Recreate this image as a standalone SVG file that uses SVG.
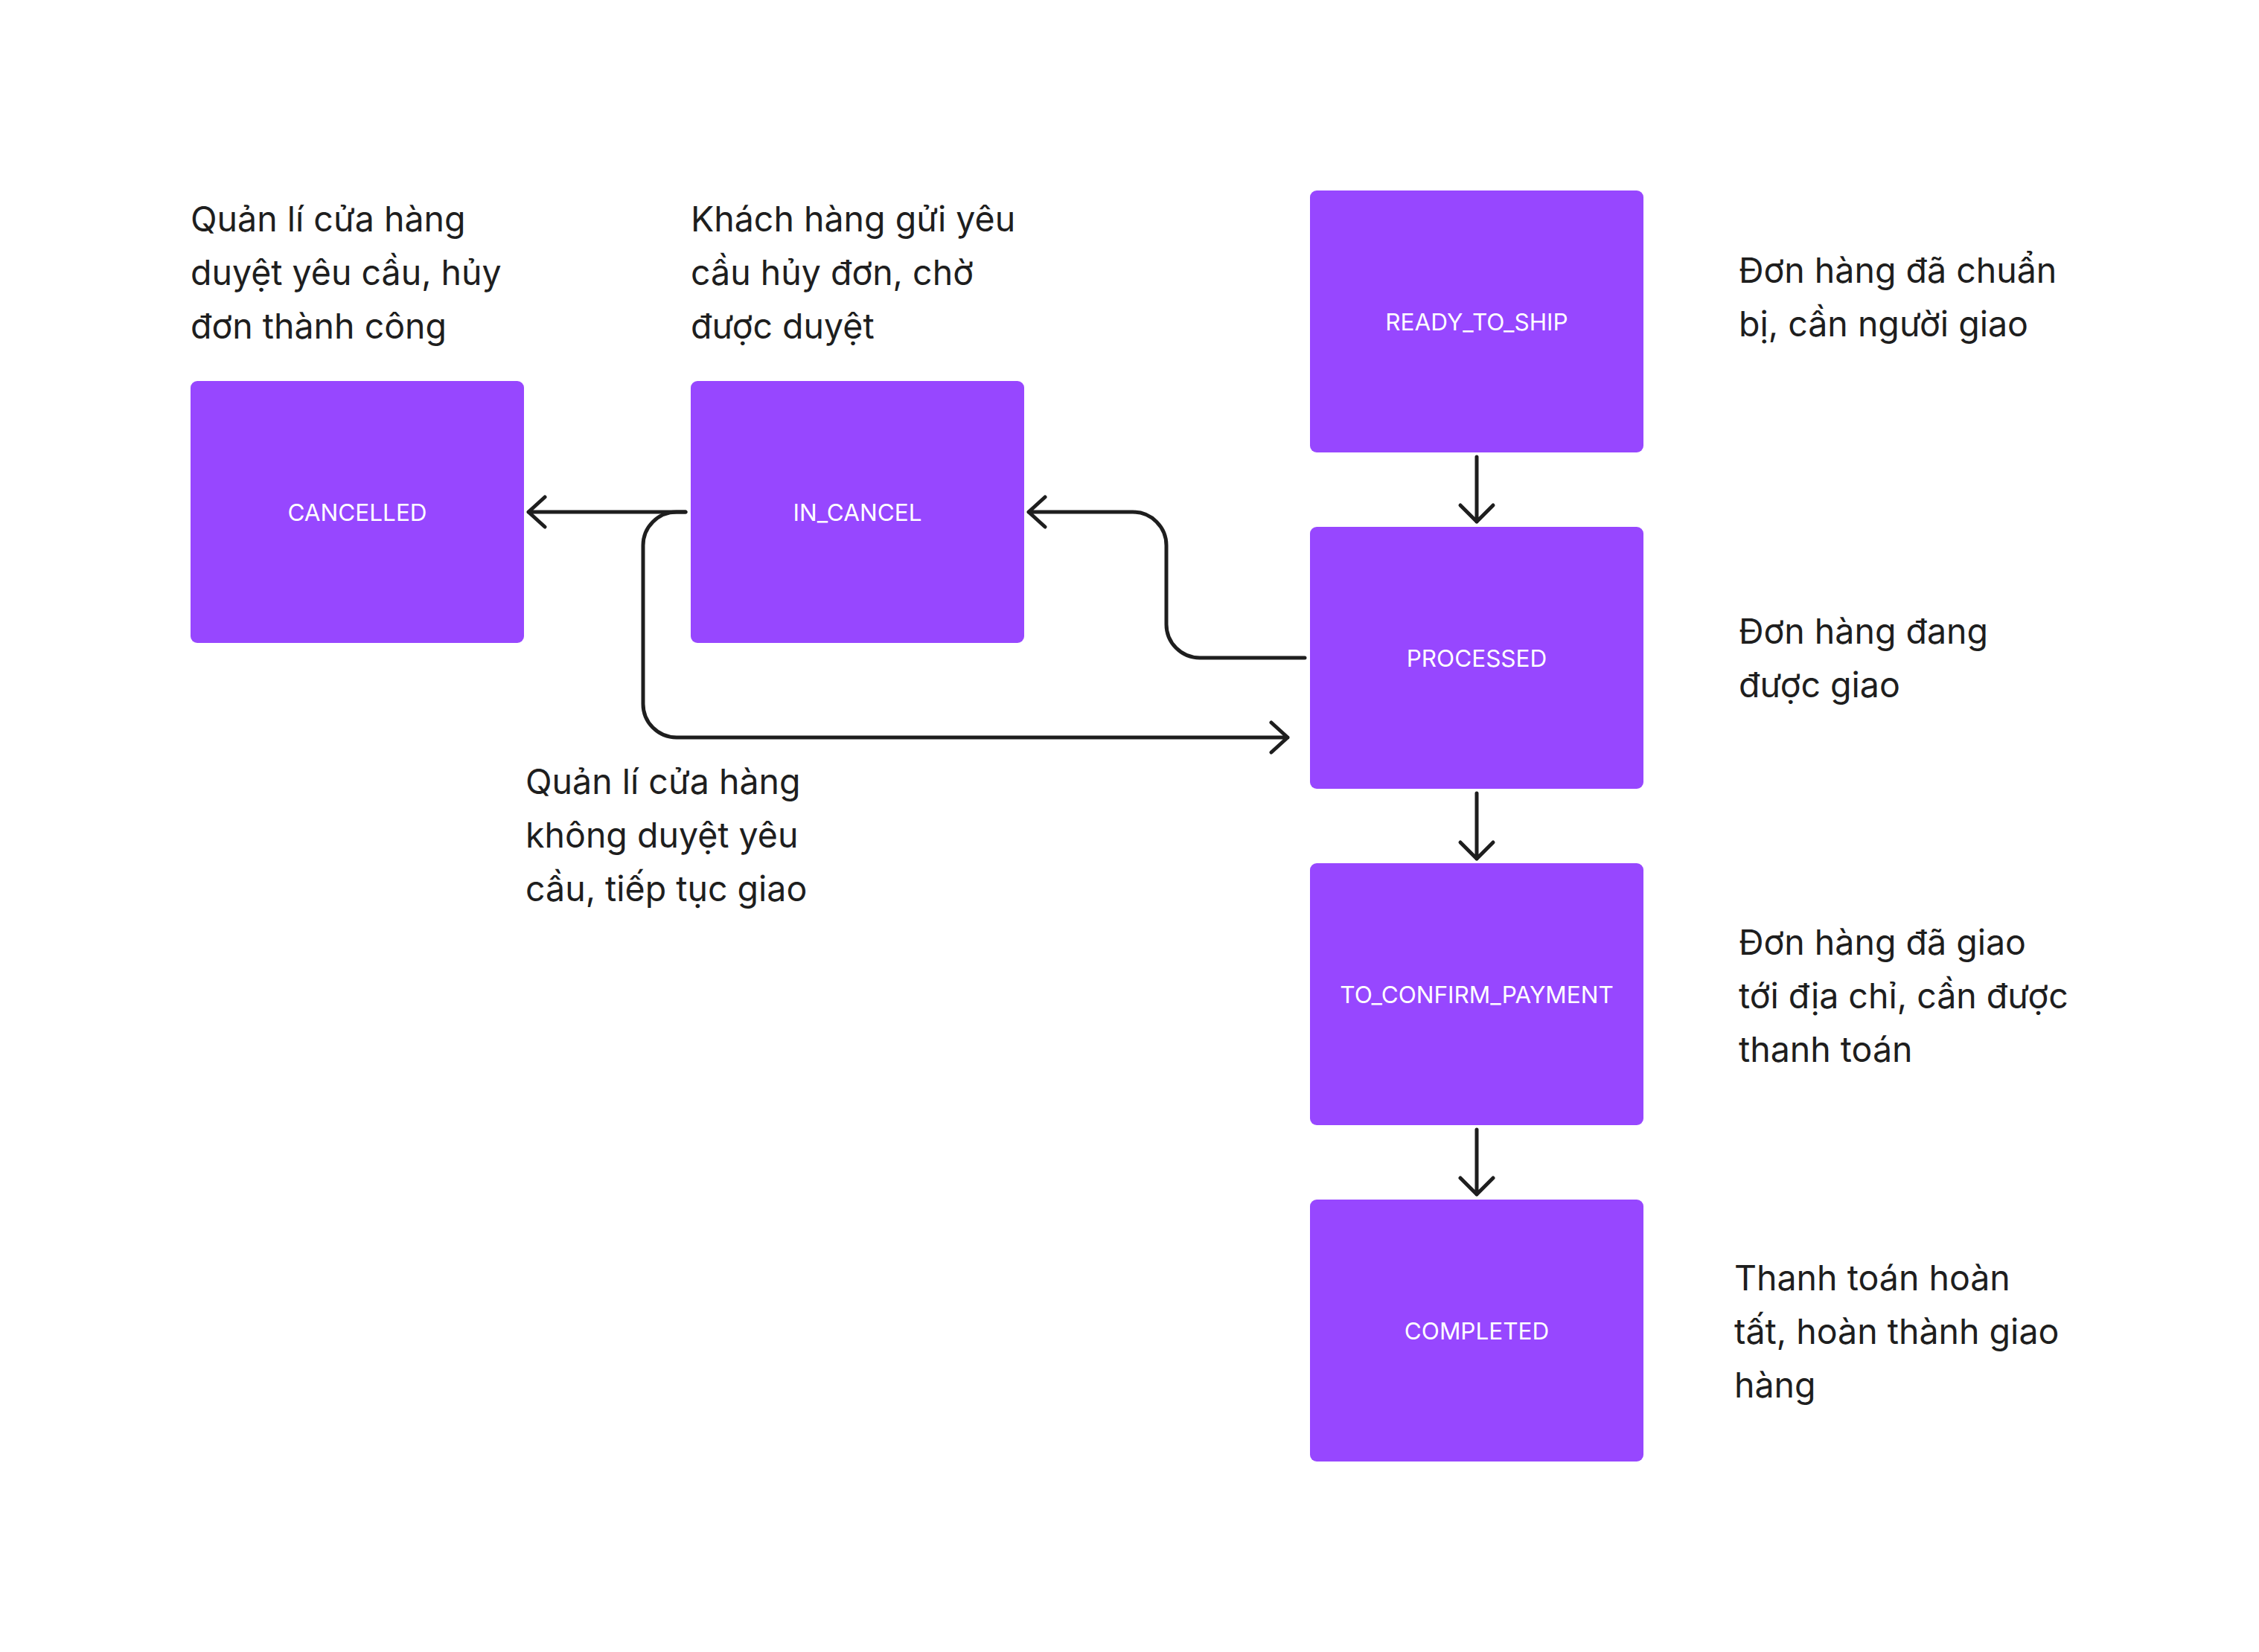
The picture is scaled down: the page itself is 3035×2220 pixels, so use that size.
<svg xmlns="http://www.w3.org/2000/svg" width="3035" height="2220" viewBox="0 0 3035 2220">
<style>
.box{fill:#9747FF}
.lbl{font-family:Inter,"Noto Sans",sans-serif;font-size:31.5px;fill:#FFFFFF;text-anchor:middle}
.desc{font-family:Inter,"Noto Sans",sans-serif;font-size:46.5px;fill:#1E1E1E}
.ln{fill:none;stroke:#1E1E1E;stroke-width:5;stroke-linecap:round;stroke-linejoin:round}
</style>
<rect width="3035" height="2220" fill="#FFFFFF"/>
<g id="connectors">
<path class="ln" d="M921 688 H710 M732 668 L710 688 L732 708"/>
<path class="ln" d="M921 688 H909 A45 45 0 0 0 864 733 V946 A45 45 0 0 0 909 991 H1730 M1708 971 L1730 991 L1708 1011"/>
<path class="ln" d="M1753 884 H1612 A45 45 0 0 1 1567 839 V733 A45 45 0 0 0 1522 688 H1382 M1404 668 L1382 688 L1404 708"/>
<path class="ln" d="M1984 614 V701 M1962 679 L1984 701 L2006 679"/>
<path class="ln" d="M1984 1066 V1154 M1962 1132 L1984 1154 L2006 1132"/>
<path class="ln" d="M1984 1518 V1605 M1962 1583 L1984 1605 L2006 1583"/>
</g>
<g id="cancelled">
<rect class="box" x="256" y="512" width="448" height="352" rx="9"/>
<text class="lbl" x="480" y="700">CANCELLED</text>
</g>
<g id="in_cancel">
<rect class="box" x="928" y="512" width="448" height="352" rx="9"/>
<text class="lbl" x="1152" y="700">IN_CANCEL</text>
</g>
<g id="ready_to_ship">
<rect class="box" x="1760" y="256" width="448" height="352" rx="9"/>
<text class="lbl" x="1984" y="444">READY_TO_SHIP</text>
</g>
<g id="processed">
<rect class="box" x="1760" y="708" width="448" height="352" rx="9"/>
<text class="lbl" x="1984" y="896">PROCESSED</text>
</g>
<g id="to_confirm_payment">
<rect class="box" x="1760" y="1160" width="448" height="352" rx="9"/>
<text class="lbl" x="1984" y="1348">TO_CONFIRM_PAYMENT</text>
</g>
<g id="completed">
<rect class="box" x="1760" y="1612" width="448" height="352" rx="9"/>
<text class="lbl" x="1984" y="1800">COMPLETED</text>
</g>
<g id="note_cancelled">
<text class="desc" x="256" y="311">Quản lí cửa hàng</text>
<text class="desc" x="256" y="383">duyệt yêu cầu, hủy</text>
<text class="desc" x="256" y="455">đơn thành công</text>
</g>
<g id="note_in_cancel">
<text class="desc" x="928" y="311">Khách hàng gửi yêu</text>
<text class="desc" x="928" y="383">cầu hủy đơn, chờ</text>
<text class="desc" x="928" y="455">được duyệt</text>
</g>
<g id="note_reject">
<text class="desc" x="706" y="1067">Quản lí cửa hàng</text>
<text class="desc" x="706" y="1139">không duyệt yêu</text>
<text class="desc" x="706" y="1211">cầu, tiếp tục giao</text>
</g>
<g id="note_ready">
<text class="desc" x="2336" y="380">Đơn hàng đã chuẩn</text>
<text class="desc" x="2336" y="452">bị, cần người giao</text>
</g>
<g id="note_processed">
<text class="desc" x="2336" y="865">Đơn hàng đang</text>
<text class="desc" x="2336" y="937">được giao</text>
</g>
<g id="note_to_confirm">
<text class="desc" x="2336" y="1283">Đơn hàng đã giao</text>
<text class="desc" x="2336" y="1355">tới địa chỉ, cần được</text>
<text class="desc" x="2336" y="1427">thanh toán</text>
</g>
<g id="note_completed">
<text class="desc" x="2330" y="1734">Thanh toán hoàn</text>
<text class="desc" x="2330" y="1806">tất, hoàn thành giao</text>
<text class="desc" x="2330" y="1878">hàng</text>
</g>
</svg>
